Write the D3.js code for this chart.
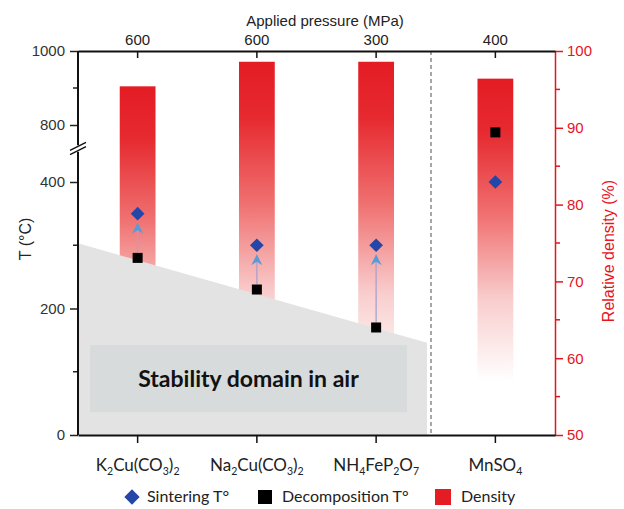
<!DOCTYPE html>
<html>
<head>
<meta charset="utf-8">
<script src="https://cdn.jsdelivr.net/npm/d3@7"></script>
<style>
  body { margin: 0; background: #fff; }
  svg text { font-family: "Liberation Sans", Arial, sans-serif; }
</style>
</head>
<body>
<svg id="chart"></svg>
<script>
// data
const categories = ['K2Cu(CO3)2', 'Na2Cu(CO3)2', 'NH4FeP2O7', 'MnSO4'];
const pressure = [600, 600, 300, 400];
const density = [95.4, 98.6, 98.6, 96.4];
const sintering = [350, 300, 300, 400];
const decomposition = [280, 230, 170, 780];
const stabilityEdge = [303, 146];   // T at left axis / at the divider
const stabilityBox = [36, 142];     // T range of the label box
const lowTicks = [0, 200, 400];
const upTicks = [800, 1000];
const densTicks = [50, 60, 70, 80, 90, 100];

const W = 624, H = 509;
const pL = 78, pR = 555, pT = 51, pB = 435;
const red = '#e8141c';

const svg = d3.select('#chart').attr('width', W).attr('height', H);

const x = d3.scaleBand().domain(categories).range([pL, pR]).padding(0);
const cx = d => x(d) + x.bandwidth() / 2;
const yLow = d3.scaleLinear().domain([0, 400]).range([pB, 182]);
const yUp = d3.scaleLinear().domain([800, 1000]).range([125, pT]);
const yT = v => v <= 400 ? yLow(v) : yUp(v);
const yD = d3.scaleLinear().domain([50, 100]).range([pB, pT]);
const divider = x(categories[3]) - 0.04 * x.bandwidth();

// gradient for bars
const grad = svg.append('defs').append('linearGradient')
  .attr('id', 'barGrad').attr('x1', 0).attr('x2', 0).attr('y1', 0).attr('y2', 1);
[[0, '#e41c24'], [0.15, '#e62a30'], [0.38, '#f07070'], [0.62, '#f9cdcd'], [0.85, '#ffffff']]
  .forEach(s => grad.append('stop').attr('offset', s[0]).attr('stop-color', s[1]));

// bars
const bw = x.bandwidth() * 0.3;
svg.selectAll('.bar')
  .data(categories)
  .enter()
  .append('rect')
  .attr('class', 'bar')
  .attr('x', d => cx(d) - bw / 2)
  .attr('y', (d, i) => yD(density[i]))
  .attr('width', bw)
  .attr('height', (d, i) => yD(50) - yD(density[i]))
  .attr('fill', 'url(#barGrad)');

// stability domain
svg.append('path')
  .attr('d', d3.line()([
    [pL, yT(stabilityEdge[0])], [divider - 4, yT(stabilityEdge[1])],
    [divider - 4, yT(0)], [pL, yT(0)]
  ]))
  .attr('fill', '#e3e3e3');

svg.append('rect')
  .attr('x', pL + 12)
  .attr('y', yT(stabilityBox[1]))
  .attr('width', divider - 24 - pL - 12)
  .attr('height', yT(stabilityBox[0]) - yT(stabilityBox[1]))
  .attr('fill', '#d8dbdb');

svg.append('text')
  .attr('x', (pL + divider - 12) / 2)
  .attr('y', yT((stabilityBox[0] + stabilityBox[1]) / 2) + 8)
  .attr('text-anchor', 'middle')
  .style('font-family', 'Lato, sans-serif')
  .style('font-weight', 'bold')
  .style('font-size', '23px')
  .attr('fill', '#111')
  .text('Stability domain in air');

// dashed divider
svg.append('line')
  .attr('x1', divider).attr('x2', divider)
  .attr('y1', pT).attr('y2', pB)
  .attr('stroke', '#8a8a8a').attr('stroke-width', 1.5)
  .attr('stroke-dasharray', '4,3');

// arrows from decomposition to sintering
svg.append('defs').append('marker')
  .attr('id', 'arrow').attr('viewBox', '0 0 10 10')
  .attr('refX', 9).attr('refY', 5)
  .attr('markerWidth', 11).attr('markerHeight', 11)
  .attr('markerUnits', 'userSpaceOnUse')
  .attr('orient', 'auto')
  .append('path').attr('d', 'M0,0 L10,5 L0,10 L3,5 Z').attr('fill', '#5b9bd5');

categories.forEach((c, i) => {
  if (decomposition[i] < sintering[i]) {
    svg.append('line')
      .attr('x1', cx(c)).attr('x2', cx(c))
      .attr('y1', yT(decomposition[i]) - 5)
      .attr('y2', yT(sintering[i]) + 10)
      .attr('stroke', '#a6a3cf').attr('stroke-width', 1.3)
      .attr('marker-end', 'url(#arrow)');
  }
});

// markers
svg.selectAll('.sinter')
  .data(categories)
  .enter()
  .append('path')
  .attr('class', 'sinter')
  .attr('transform', (d, i) => `translate(${cx(d)}, ${yT(sintering[i])})`)
  .attr('d', d3.symbol(d3.symbolDiamond2, 120))
  .attr('fill', '#2446a8');

svg.selectAll('.decomp')
  .data(categories)
  .enter()
  .append('rect')
  .attr('class', 'decomp')
  .attr('x', d => cx(d) - 5)
  .attr('y', (d, i) => yT(decomposition[i]) - 5)
  .attr('width', 10).attr('height', 10)
  .attr('fill', '#000');

// left axes (broken)
const axL1 = svg.append('g').attr('transform', `translate(${pL},0)`)
  .call(d3.axisLeft(yLow).tickValues(lowTicks).tickSize(8).tickPadding(5).tickFormat(d3.format('d')));
const axL2 = svg.append('g').attr('transform', `translate(${pL},0)`)
  .call(d3.axisLeft(yUp).tickValues(upTicks).tickSize(8).tickPadding(5).tickFormat(d3.format('d')));
[axL1, axL2].forEach(a => {
  a.select('.domain').remove();
  a.selectAll('line').attr('stroke', '#222').attr('stroke-width', 1.5);
  a.selectAll('text').style('font-size', '15px').attr('fill', '#333');
});
// minor ticks
svg.selectAll('.minorL')
  .data([100, 300, 900])
  .enter()
  .append('line')
  .attr('x1', pL - 5).attr('x2', pL)
  .attr('y1', d => yT(d)).attr('y2', d => yT(d))
  .attr('stroke', '#222').attr('stroke-width', 1.5);

svg.append('line').attr('x1', pL).attr('x2', pL)
  .attr('y1', pT).attr('y2', yUp(745))
  .attr('stroke', '#111').attr('stroke-width', 2);
svg.append('line').attr('x1', pL).attr('x2', pL)
  .attr('y1', yLow(448)).attr('y2', pB)
  .attr('stroke', '#111').attr('stroke-width', 2);
// break marks
[yUp(745) + 1, yLow(448) - 1].forEach(yy => {
  svg.append('line')
    .attr('x1', pL - 8).attr('x2', pL + 8)
    .attr('y1', yy + 4).attr('y2', yy - 4)
    .attr('stroke', '#111').attr('stroke-width', 1.5);
});

// right axis
const axR = svg.append('g').attr('transform', `translate(${pR},0)`)
  .call(d3.axisRight(yD).tickValues(densTicks).tickSize(8).tickPadding(4).tickSizeOuter(0));
axR.select('.domain').attr('stroke', red).attr('stroke-width', 1.5);
axR.selectAll('line').attr('stroke', red).attr('stroke-width', 1.5);
axR.selectAll('text').style('font-size', '15px').attr('fill', red);
svg.selectAll('.minorR')
  .data([55, 65, 75, 85, 95])
  .enter()
  .append('line')
  .attr('x1', pR).attr('x2', pR + 5)
  .attr('y1', d => yD(d)).attr('y2', d => yD(d))
  .attr('stroke', red).attr('stroke-width', 1.5);

// top axis
const axT = svg.append('g').attr('transform', `translate(0,${pT})`)
  .call(d3.axisTop(x).tickSizeInner(-7).tickSizeOuter(0).tickPadding(5)
    .tickFormat((d, i) => pressure[i]));
axT.select('.domain').attr('stroke', '#111').attr('stroke-width', 2);
axT.selectAll('line').attr('stroke', '#111').attr('stroke-width', 1.5);
axT.selectAll('text').style('font-size', '15px').attr('fill', '#222').attr('y', -6);

// bottom axis
const axB = svg.append('g').attr('transform', `translate(0,${pB})`)
  .call(d3.axisBottom(x).tickSize(8).tickSizeOuter(0).tickFormat(''));
axB.select('.domain').attr('stroke', '#111').attr('stroke-width', 2);
axB.selectAll('line').attr('stroke', '#111').attr('stroke-width', 1.5);

// category labels with subscripts
function chem(sel, label, size) {
  let shifted = false;
  label.split(/(\d+)/).filter(p => p).forEach(part => {
    const sub = /^\d+$/.test(part);
    const ts = sel.append('tspan').text(part);
    if (sub) {
      ts.attr('dy', 4).style('font-size', size * 0.62 + 'px');
      shifted = true;
    } else if (shifted) {
      ts.attr('dy', -4);
      shifted = false;
    }
  });
}
categories.forEach(c => {
  const t = svg.append('text')
    .attr('x', cx(c))
    .attr('y', 471)
    .attr('text-anchor', 'middle')
    .style('font-family', 'Lato, sans-serif')
    .style('font-size', '17px')
    .attr('fill', '#222');
  chem(t, c, 17);
});

// axis titles
svg.append('text')
  .attr('x', 325).attr('y', 26)
  .attr('text-anchor', 'middle')
  .style('font-size', '15px').attr('fill', '#222')
  .text('Applied pressure (MPa)');

svg.append('text')
  .attr('transform', 'rotate(-90)')
  .attr('x', -239).attr('y', 31)
  .attr('text-anchor', 'middle')
  .style('font-size', '16px').attr('fill', '#222')
  .text('T (°C)');

svg.append('text')
  .attr('transform', 'rotate(-90)')
  .attr('x', -251).attr('y', 614)
  .attr('text-anchor', 'middle')
  .style('font-size', '16px').attr('fill', red)
  .text('Relative density (%)');

// legend
const legY = 497;
svg.append('path')
  .attr('transform', `translate(132, ${legY})`)
  .attr('d', d3.symbol(d3.symbolDiamond2, 150))
  .attr('fill', '#2446a8');
svg.append('text').attr('x', 147).attr('y', legY + 5)
  .style('font-family', 'Lato, sans-serif').style('font-size', '16px').attr('fill', '#222')
  .text('Sintering T°');
svg.append('rect').attr('x', 258).attr('y', legY - 7).attr('width', 14).attr('height', 14).attr('fill', '#000');
svg.append('text').attr('x', 282).attr('y', legY + 5)
  .style('font-family', 'Lato, sans-serif').style('font-size', '16px').attr('fill', '#222')
  .text('Decomposition T°');
svg.append('rect').attr('x', 435).attr('y', legY - 8).attr('width', 16).attr('height', 16).attr('fill', '#e41c24');
svg.append('text').attr('x', 461).attr('y', legY + 5)
  .style('font-family', 'Lato, sans-serif').style('font-size', '16px').attr('fill', '#222')
  .text('Density');
</script>
</body>
</html>
